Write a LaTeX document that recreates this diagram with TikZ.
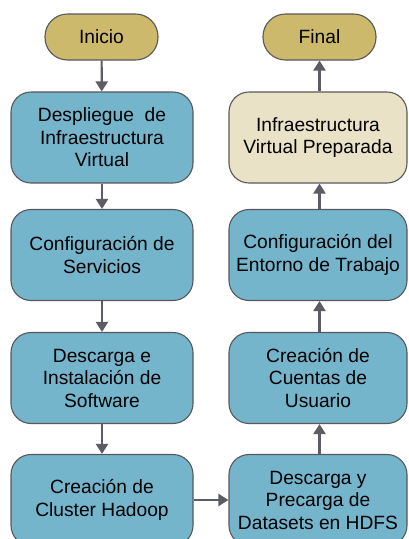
\documentclass[tikz,border=0pt]{standalone}
\usepackage{fontspec}
\setmainfont{Liberation Sans}
\usetikzlibrary{arrows.meta}
\definecolor{boxblue}{RGB}{116,181,204}
\definecolor{termgold}{RGB}{204,185,108}
\definecolor{beige}{RGB}{233,226,198}
\definecolor{edgegray}{RGB}{88,88,92}
\definecolor{arrowgray}{RGB}{92,92,100}
\tikzset{
  stepbox/.style={draw=edgegray, line width=1.1pt, fill=boxblue, rounded corners=20pt,
    minimum width=182pt, minimum height=91pt, align=center, inner sep=1pt,
    font=\fontsize{19.2}{22.5}\selectfont},
  endbox/.style={stepbox, fill=beige},
  termbox/.style={draw=edgegray, line width=1.1pt, fill=termgold, rounded corners=22.5pt,
    minimum width=113pt, minimum height=46pt, align=center,
    font=\fontsize{19.2}{22.5}\selectfont},
  flow/.style={draw=arrowgray, line width=2.2pt, -{Triangle[width=12pt,length=10pt]}}
}
\begin{document}
\begin{tikzpicture}[x=1pt,y=-1pt]
\useasboundingbox (0,0) rectangle (408,539);
\begin{scope}
\clip (0,0) rectangle (408,539);
\node[termbox] (ini) at (101.5,37) {Inicio};
\node[termbox] (fin) at (319.5,37) {Final};
\node[stepbox] (dep) at (102,137.5) {Despliegue\ \ de\\Infraestructura\\Virtual};
\node[endbox, minimum width=178pt] (inf) at (318,137.5) {Infraestructura\\Virtual Preparada};
\node[stepbox] (ser) at (102,255) {Configuración de\\Servicios};
\node[stepbox, minimum width=178pt] (ent) at (318,255) {Configuración del\\Entorno de Trabajo};
\node[stepbox] (des) at (102,378) {Descarga e\\Instalación de\\Software};
\node[stepbox, minimum width=178pt] (cue) at (318,378) {Creación de\\Cuentas de\\Usuario};
\node[stepbox] (clu) at (102,500) {Creación de\\Cluster Hadoop};
\node[stepbox, minimum width=178pt] (pre) at (318,500) {Descarga y\\Precarga de\\Datasets en HDFS};
\draw[flow] (ini) -- (dep);
\draw[flow] (dep) -- (ser);
\draw[flow] (ser) -- (des);
\draw[flow] (des) -- (clu);
\draw[flow] (clu) -- (pre);
\draw[flow] (pre.north -| fin) -- (cue.south -| fin);
\draw[flow] (cue.north -| fin) -- (ent.south -| fin);
\draw[flow] (ent.north -| fin) -- (inf.south -| fin);
\draw[flow] (inf.north -| fin) -- (fin);
\end{scope}
\end{tikzpicture}
\end{document}
